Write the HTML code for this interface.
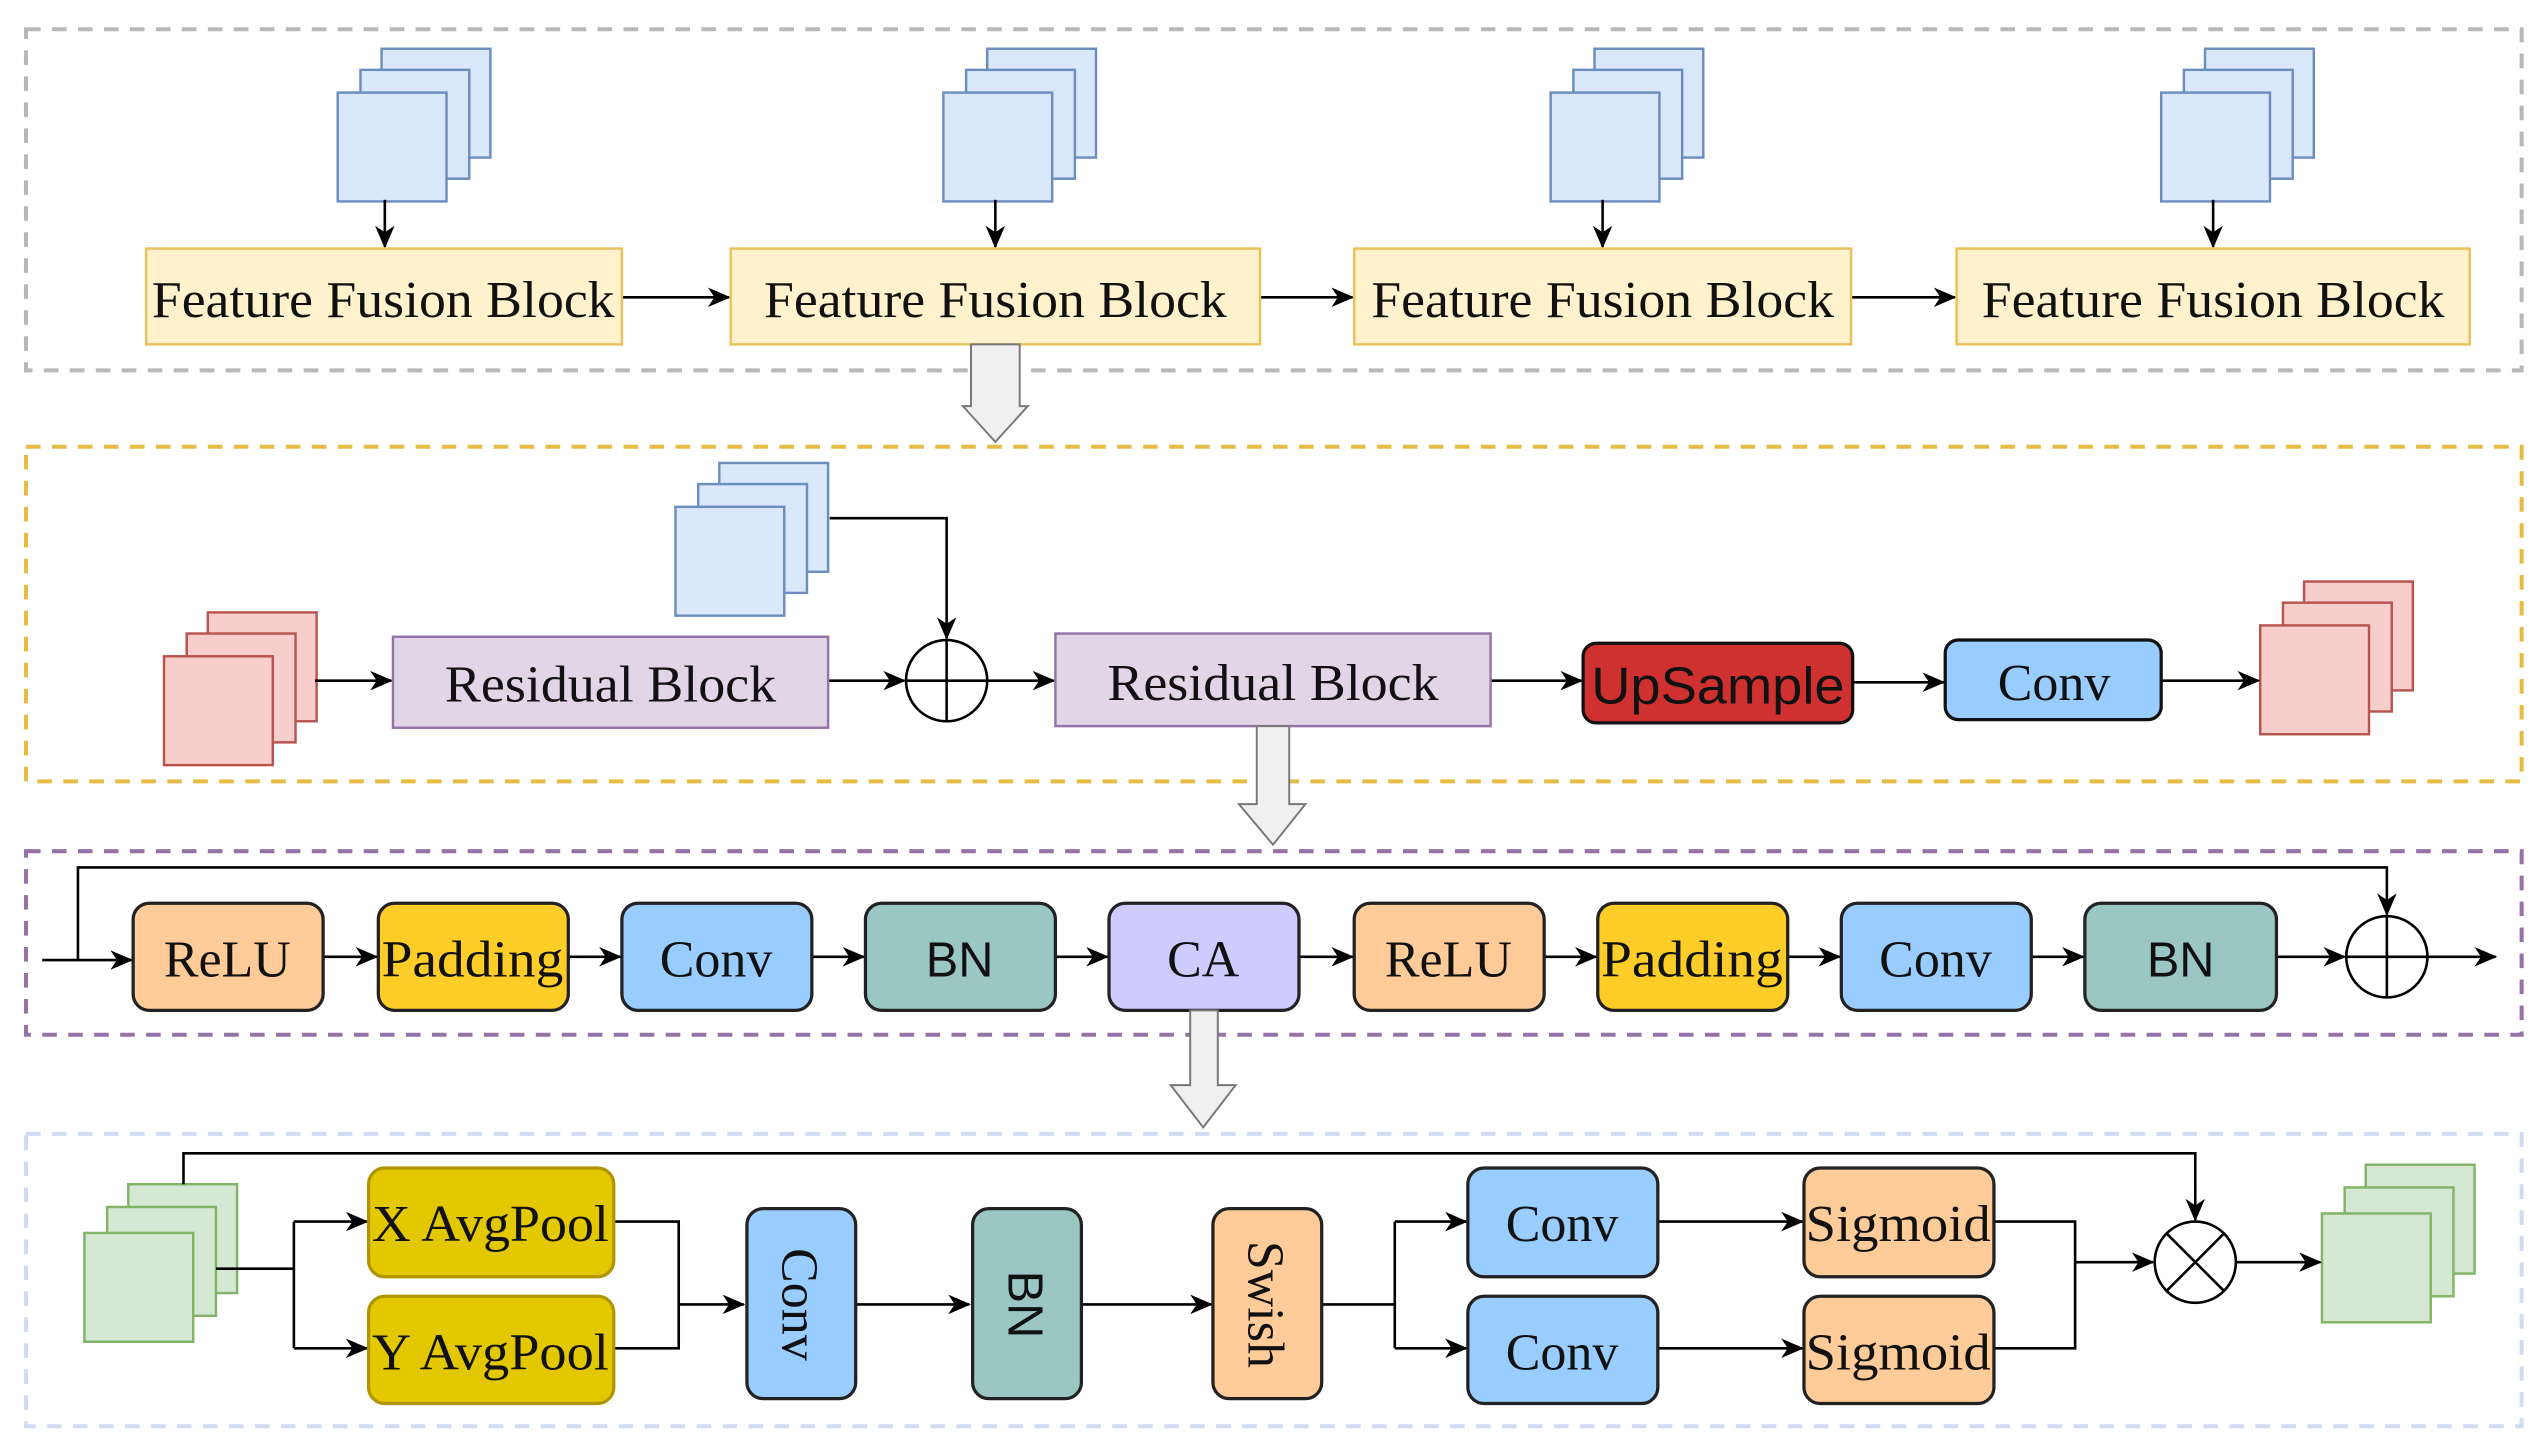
<!DOCTYPE html>
<html><head><meta charset="utf-8"><style>
html,body{margin:0;padding:0;background:#fff;}
svg{display:block;}
text{font-family:"Liberation Serif",serif;fill:#111;}
</style></head><body>
<svg width="2546" height="1449" viewBox="0 0 1568 892" preserveAspectRatio="none" xmlns="http://www.w3.org/2000/svg">
<defs>
<marker id="a" markerWidth="14" markerHeight="12" refX="13" refY="6" orient="auto" markerUnits="userSpaceOnUse"><path d="M0,0 L14,6 L0,12 L4,6 z" fill="#000"/></marker>
<g id="bs"><rect x="27" y="0" width="67" height="67" fill="#dae8fc" stroke="#6c8ebf" stroke-width="1.5"/><rect x="14" y="13" width="67" height="67" fill="#dae8fc" stroke="#6c8ebf" stroke-width="1.5"/><rect x="0" y="27" width="67" height="67" fill="#dae8fc" stroke="#6c8ebf" stroke-width="1.5"/></g>
<g id="rs"><rect x="27" y="0" width="67" height="67" fill="#f8cecc" stroke="#b85450" stroke-width="1.5"/><rect x="14" y="13" width="67" height="67" fill="#f8cecc" stroke="#b85450" stroke-width="1.5"/><rect x="0" y="27" width="67" height="67" fill="#f8cecc" stroke="#b85450" stroke-width="1.5"/></g>
<g id="gs"><rect x="27" y="0" width="67" height="67" fill="#d5e8d4" stroke="#82b366" stroke-width="1.5"/><rect x="14" y="14" width="67" height="67" fill="#d5e8d4" stroke="#82b366" stroke-width="1.5"/><rect x="0" y="30" width="67" height="67" fill="#d5e8d4" stroke="#82b366" stroke-width="1.5"/></g>
</defs>
<g fill="none" stroke-width="2.5" stroke-dasharray="9,7">
<rect x="16" y="18" width="1537" height="210" stroke="#b8b8b8"/>
<rect x="16" y="275" width="1537" height="206" stroke="#e6bc45"/>
<rect x="16" y="524" width="1537" height="113" stroke="#9673a6"/>
<rect x="16" y="698" width="1537" height="180" stroke="#d0dcf4"/>
</g>
<use href="#bs" x="208" y="30"/><use href="#bs" x="581" y="30"/><use href="#bs" x="955" y="30"/><use href="#bs" x="1331" y="30"/>
<g stroke="#000" stroke-width="1.6" fill="none" marker-end="url(#a)">
<line x1="237" y1="123" x2="237" y2="152"/><line x1="613" y1="123" x2="613" y2="152"/><line x1="987" y1="123" x2="987" y2="152"/><line x1="1363" y1="123" x2="1363" y2="152"/>
<line x1="383" y1="183" x2="449" y2="183"/><line x1="776" y1="183" x2="833" y2="183"/><line x1="1140" y1="183" x2="1204" y2="183"/>
</g>
<g fill="#fff2cc" stroke="#e8c15a" stroke-width="1.5">
<rect x="90" y="153" width="293" height="59"/><rect x="450" y="153" width="326" height="59"/><rect x="834" y="153" width="306" height="59"/><rect x="1205" y="153" width="316" height="59"/>
</g>
<g font-size="32" text-anchor="middle">
<text x="236" y="195" textLength="285" lengthAdjust="spacingAndGlyphs">Feature Fusion Block</text>
<text x="613" y="195" textLength="285" lengthAdjust="spacingAndGlyphs">Feature Fusion Block</text>
<text x="987" y="195" textLength="285" lengthAdjust="spacingAndGlyphs">Feature Fusion Block</text>
<text x="1363" y="195" textLength="285" lengthAdjust="spacingAndGlyphs">Feature Fusion Block</text>
</g>
<path d="M598,212 H628 V250 H633 L613,272 L593,250 H598 Z" fill="#f0f0f0" stroke="#777" stroke-width="1.2"/>
<use href="#bs" x="416" y="285"/>
<use href="#rs" x="101" y="377"/>
<use href="#rs" x="1392" y="358"/>
<g stroke="#000" stroke-width="1.6" fill="none">
<polyline points="511,319 583,319 583,393" marker-end="url(#a)"/>
<line x1="194" y1="419" x2="241" y2="419" marker-end="url(#a)"/>
<line x1="510" y1="419" x2="557" y2="419" marker-end="url(#a)"/>
<line x1="608" y1="419" x2="649" y2="419" marker-end="url(#a)"/>
<line x1="918" y1="419" x2="974" y2="419" marker-end="url(#a)"/>
<line x1="1141" y1="420" x2="1197" y2="420" marker-end="url(#a)"/>
<line x1="1331" y1="419" x2="1391" y2="419" marker-end="url(#a)"/>
<circle cx="583" cy="419" r="25"/><line x1="558" y1="419" x2="608" y2="419"/><line x1="583" y1="394" x2="583" y2="444"/>
</g>
<rect x="242" y="392" width="268" height="56" fill="#e1d5e7" stroke="#9673a6" stroke-width="1.5"/>
<rect x="650" y="390" width="268" height="57" fill="#e1d5e7" stroke="#9673a6" stroke-width="1.5"/>
<rect x="975" y="396" width="166" height="49" rx="8" fill="#cf3030" stroke="#111" stroke-width="2"/>
<rect x="1198" y="394" width="133" height="49" rx="8" fill="#99ccff" stroke="#111" stroke-width="2"/>
<g font-size="32" text-anchor="middle">
<text x="376" y="432" textLength="204" lengthAdjust="spacingAndGlyphs">Residual Block</text>
<text x="784" y="431" textLength="204" lengthAdjust="spacingAndGlyphs">Residual Block</text>
<text x="1058" y="433" style="font-family:'Liberation Sans',sans-serif" textLength="156" lengthAdjust="spacingAndGlyphs">UpSample</text>
<text x="1265" y="431">Conv</text>
</g>
<path d="M774,447 H794 V495 H804 L784,520 L763,495 H774 Z" fill="#f0f0f0" stroke="#777" stroke-width="1.2"/>
<g stroke="#000" stroke-width="1.6" fill="none">
<polyline points="48,591 48,534 1470,534 1470,563" marker-end="url(#a)"/>
<line x1="26" y1="591" x2="81" y2="591" marker-end="url(#a)"/>
<line x1="199" y1="589" x2="232" y2="589" marker-end="url(#a)"/>
<line x1="350" y1="589" x2="382" y2="589" marker-end="url(#a)"/>
<line x1="500" y1="589" x2="532" y2="589" marker-end="url(#a)"/>
<line x1="650" y1="589" x2="682" y2="589" marker-end="url(#a)"/>
<line x1="800" y1="589" x2="833" y2="589" marker-end="url(#a)"/>
<line x1="951" y1="589" x2="983" y2="589" marker-end="url(#a)"/>
<line x1="1101" y1="589" x2="1133" y2="589" marker-end="url(#a)"/>
<line x1="1251" y1="589" x2="1283" y2="589" marker-end="url(#a)"/>
<line x1="1402" y1="589" x2="1444" y2="589" marker-end="url(#a)"/>
<line x1="1495" y1="589" x2="1537" y2="589" marker-end="url(#a)"/>
<circle cx="1470" cy="589" r="25"/><line x1="1445" y1="589" x2="1495" y2="589"/><line x1="1470" y1="564" x2="1470" y2="614"/>
</g>
<g stroke="#222" stroke-width="2">
<rect x="82" y="556" width="117" height="66" rx="10" fill="#ffcc99"/>
<rect x="233" y="556" width="117" height="66" rx="10" fill="#ffcd28"/>
<rect x="383" y="556" width="117" height="66" rx="10" fill="#99ccff"/>
<rect x="533" y="556" width="117" height="66" rx="10" fill="#9ac7c4"/>
<rect x="683" y="556" width="117" height="66" rx="10" fill="#ccccff"/>
<rect x="834" y="556" width="117" height="66" rx="10" fill="#ffcc99"/>
<rect x="984" y="556" width="117" height="66" rx="10" fill="#ffcd28"/>
<rect x="1134" y="556" width="117" height="66" rx="10" fill="#99ccff"/>
<rect x="1284" y="556" width="118" height="66" rx="10" fill="#9ac7c4"/>
</g>
<g font-size="32" text-anchor="middle">
<text x="140" y="601">ReLU</text>
<text x="291" y="601" textLength="112" lengthAdjust="spacingAndGlyphs">Padding</text>
<text x="441" y="601">Conv</text>
<text x="591" y="601" style="font-family:'Liberation Sans',sans-serif" font-size="30">BN</text>
<text x="741" y="601">CA</text>
<text x="892" y="601">ReLU</text>
<text x="1042" y="601" textLength="112" lengthAdjust="spacingAndGlyphs">Padding</text>
<text x="1192" y="601">Conv</text>
<text x="1343" y="601" style="font-family:'Liberation Sans',sans-serif" font-size="30">BN</text>
</g>
<path d="M733,622 H750 V668 H761 L741,694 L721,668 H733 Z" fill="#f0f0f0" stroke="#777" stroke-width="1.2"/>
<use href="#gs" x="52" y="729"/>
<use href="#gs" x="1430" y="717"/>
<g stroke="#000" stroke-width="1.6" fill="none">
<polyline points="113,729 113,710 1352,710 1352,751" marker-end="url(#a)"/>
<polyline points="133,781 181,781"/>
<polyline points="181,752 181,830"/>
<line x1="181" y1="752" x2="226" y2="752" marker-end="url(#a)"/>
<line x1="181" y1="830" x2="226" y2="830" marker-end="url(#a)"/>
<polyline points="378,752 418,752 418,830 378,830"/>
<line x1="418" y1="803" x2="458" y2="803" marker-end="url(#a)"/>
<line x1="527" y1="803" x2="597" y2="803" marker-end="url(#a)"/>
<line x1="666" y1="803" x2="746" y2="803" marker-end="url(#a)"/>
<polyline points="814,803 859,803"/>
<polyline points="859,752 859,830"/>
<line x1="859" y1="752" x2="903" y2="752" marker-end="url(#a)"/>
<line x1="859" y1="830" x2="903" y2="830" marker-end="url(#a)"/>
<line x1="1021" y1="752" x2="1110" y2="752" marker-end="url(#a)"/>
<line x1="1021" y1="830" x2="1110" y2="830" marker-end="url(#a)"/>
<polyline points="1228,752 1278,752 1278,830 1228,830"/>
<line x1="1278" y1="777" x2="1326" y2="777" marker-end="url(#a)"/>
<line x1="1377" y1="777" x2="1429" y2="777" marker-end="url(#a)"/>
<circle cx="1352" cy="777" r="25"/><line x1="1334" y1="759" x2="1370" y2="795"/><line x1="1370" y1="759" x2="1334" y2="795"/>
</g>
<g stroke-width="2">
<rect x="227" y="719" width="151" height="67" rx="10" fill="#e3c800" stroke="#b09500"/>
<rect x="227" y="798" width="151" height="66" rx="10" fill="#e3c800" stroke="#b09500"/>
<rect x="460" y="744" width="67" height="117" rx="10" fill="#99ccff" stroke="#222"/>
<rect x="599" y="744" width="67" height="117" rx="10" fill="#9ac7c4" stroke="#222"/>
<rect x="747" y="744" width="67" height="117" rx="10" fill="#ffcc99" stroke="#222"/>
<rect x="904" y="719" width="117" height="67" rx="10" fill="#99ccff" stroke="#222"/>
<rect x="904" y="798" width="117" height="66" rx="10" fill="#99ccff" stroke="#222"/>
<rect x="1111" y="719" width="117" height="67" rx="10" fill="#ffcc99" stroke="#222"/>
<rect x="1111" y="798" width="117" height="66" rx="10" fill="#ffcc99" stroke="#222"/>
</g>
<g font-size="32" text-anchor="middle">
<text x="302" y="764" textLength="146" lengthAdjust="spacingAndGlyphs">X AvgPool</text>
<text x="302" y="843" textLength="146" lengthAdjust="spacingAndGlyphs">Y AvgPool</text>
<text x="962" y="764">Conv</text>
<text x="962" y="843">Conv</text>
<text x="1169" y="764" textLength="114" lengthAdjust="spacingAndGlyphs">Sigmoid</text>
<text x="1169" y="843" textLength="114" lengthAdjust="spacingAndGlyphs">Sigmoid</text>
<text transform="translate(482,803) rotate(90)">Conv</text>
<text transform="translate(621,803) rotate(90)" style="font-family:'Liberation Sans',sans-serif" font-size="30">BN</text>
<text transform="translate(769,803) rotate(90)">Swish</text>
</g>
</svg>
</body></html>
